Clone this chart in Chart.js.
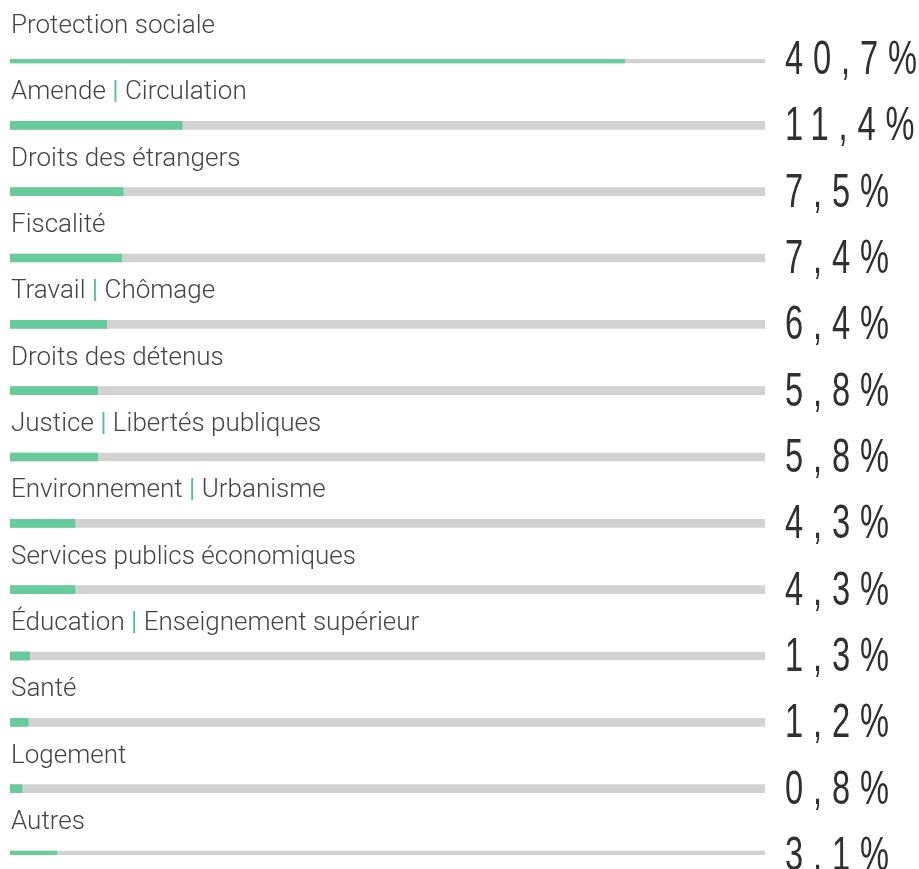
<!DOCTYPE html>
<html>
<head>
<meta charset="utf-8">
<script src="https://cdn.jsdelivr.net/npm/chart.js@4"></script>
<style>
  html, body { margin: 0; padding: 0; background: #ffffff; }
  #wrap { width: 919px; height: 869px; }
</style>
</head>
<body>
<div id="wrap"><canvas id="myThemeChart" width="919" height="869"></canvas></div>
<script>
// categories and shares (%)
var categories = [
  "Protection sociale",
  "Amende | Circulation",
  "Droits des étrangers",
  "Fiscalité",
  "Travail | Chômage",
  "Droits des détenus",
  "Justice | Libertés publiques",
  "Environnement | Urbanisme",
  "Services publics économiques",
  "Éducation | Enseignement supérieur",
  "Santé",
  "Logement",
  "Autres"
];
var shares = [40.7, 11.4, 7.5, 7.4, 6.4, 5.8, 5.8, 4.3, 4.3, 1.3, 1.2, 0.8, 3.1];
var scaleMax = 50;
var track = categories.map(function () { return scaleMax; });

var green = "#66cc99";
var grey = "#d2d2d2";

// label above each bar + value at the right
var labelPlugin = {
  id: 'labelPlugin',
  afterDatasetsDraw: function (chart) {
    var ctx = chart.ctx;
    var meta = chart.getDatasetMeta(0);
    meta.data.forEach(function (bar, i) {
      var y = bar.y;
      ctx.save();
      // category label, green pipe between the two parts
      ctx.font = "300 26px Roboto";
      ctx.textBaseline = "alphabetic";
      ctx.textAlign = "left";
      var parts = categories[i].split(" | ");
      var x = 11;
      parts.forEach(function (p, j) {
        if (j > 0) {
          var sp = ctx.measureText(" ").width;
          x += sp;
          ctx.font = "400 26px Roboto";
          ctx.fillStyle = "#55c28d";
          ctx.fillText("|", x, y - 26);
          x += ctx.measureText("|").width + sp;
          ctx.font = "300 26px Roboto";
        }
        ctx.fillStyle = "#444444";
        ctx.fillText(p, x, y - 26);
        x += ctx.measureText(p).width;
      });
      // value, condensed by scaling
      var sx = 0.68;
      ctx.translate(785, y + 15);
      ctx.scale(sx, 1);
      ctx.font = "48px 'Liberation Sans', Arial, sans-serif";
      ctx.letterSpacing = "14.5px";
      ctx.fillStyle = "#303030";
      var txt = shares[i].toFixed(1).replace(".", ",") + "%";
      ctx.fillText(txt, 0, 0);
      ctx.restore();
    });
  }
};

var canvasTheme = document.getElementById("myThemeChart");
var myThemeChart = new Chart(canvasTheme, {
  type: 'bar',
  data: {
    labels: categories,
    datasets: [
      {
        data: shares,
        backgroundColor: green,
        barThickness: 8,
        grouped: false,
        borderWidth: 0
      },
      {
        data: track,
        backgroundColor: grey,
        barThickness: 8,
        grouped: false,
        borderWidth: 0
      }
    ]
  },
  options: {
    indexAxis: 'y',
    responsive: false,
    animation: false,
    layout: { padding: { left: 10, right: 154, top: 59, bottom: 14 } },
    plugins: {
      legend: { display: false },
      tooltip: { enabled: false }
    },
    scales: {
      x: { min: 0, max: scaleMax, display: false },
      y: { display: false, offset: false }
    }
  },
  plugins: [labelPlugin]
});
</script>
</body>
</html>
